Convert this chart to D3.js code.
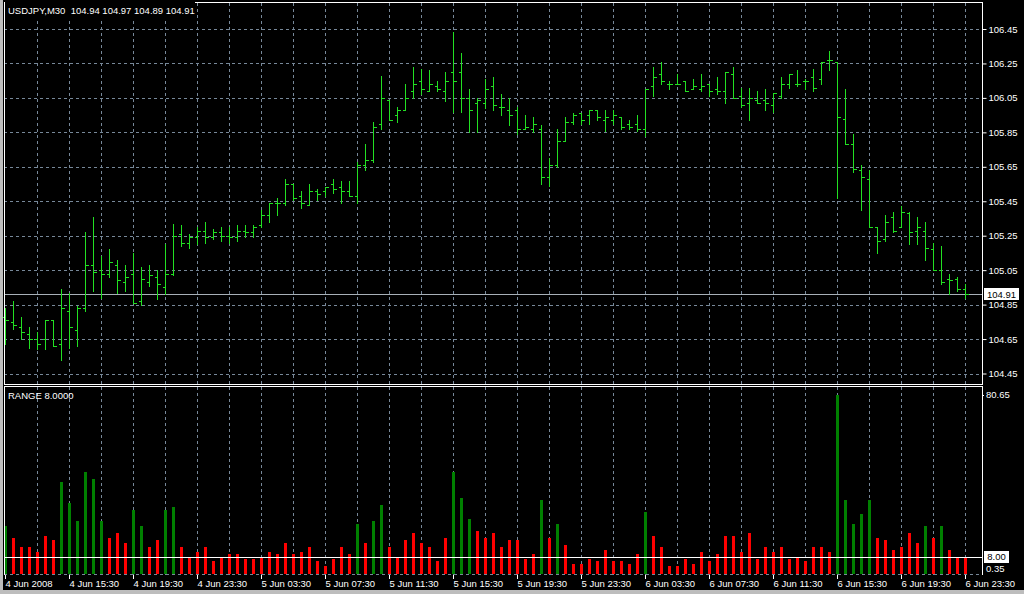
<!DOCTYPE html>
<html>
<head>
<meta charset="utf-8">
<script src="https://cdn.jsdelivr.net/npm/d3@7"></script>
<style>
  html, body { margin: 0; padding: 0; background: #000; }
  svg { display: block; }
  text { font-family: "Liberation Sans", Arial, sans-serif; font-size: 9.5px; }
</style>
</head>
<body>
<div id="chart"></div>
<script>
// Datos USDJPY M30, barra 0 = 4 Jun 2008 11:30
const opens = [
  104.78, 104.75, 104.72, 104.68, 104.65, 104.65, 104.76, 104.62, 104.81, 104.70,
  104.83, 105.08, 105.05, 105.03, 105.08, 104.98, 105.03, 104.87, 104.98, 105.01,
  104.95, 105.03, 105.26, 105.21, 105.24, 105.28, 105.24, 105.27, 105.25, 105.24,
  105.28, 105.27, 105.31, 105.37, 105.44, 105.44, 105.55, 105.48, 105.43, 105.51,
  105.51, 105.55, 105.53, 105.51, 105.48, 105.66, 105.69, 105.90, 106.04, 105.95,
  105.98, 106.09, 106.15, 106.09, 106.12, 106.09, 106.20, 106.20, 106.05, 106.02,
  106.02, 106.12, 106.00, 105.98, 105.98, 105.87, 105.87, 105.87, 105.59, 105.66,
  105.80, 105.91, 105.96, 105.95, 105.98, 105.92, 105.92, 105.94, 105.90, 105.90,
  105.87, 106.12, 106.19, 106.13, 106.13, 106.15, 106.10, 106.10, 106.13, 106.10,
  106.09, 106.19, 106.06, 106.02, 106.04, 106.04, 106.01, 106.06, 106.13, 106.13,
  106.15, 106.17, 106.16, 106.27, 106.26, 105.93, 105.78, 105.63, 105.58, 105.30,
  105.23, 105.36, 105.30, 105.38, 105.28, 105.28, 105.17, 105.05, 105.00, 105.00,
  104.94
];
const highs = [
  104.83, 104.87, 104.78, 104.72, 104.69, 104.76, 104.76, 104.94, 104.92, 104.84,
  105.27, 105.36, 105.13, 105.17, 105.11, 105.08, 105.15, 105.07, 105.08, 105.05,
  105.20, 105.32, 105.31, 105.26, 105.30, 105.33, 105.29, 105.30, 105.30, 105.31,
  105.31, 105.31, 105.40, 105.44, 105.47, 105.58, 105.55, 105.51, 105.55, 105.52,
  105.53, 105.58, 105.57, 105.57, 105.68, 105.78, 105.91, 106.18, 106.04, 106.00,
  106.13, 106.23, 106.22, 106.21, 106.15, 106.20, 106.43, 106.31, 106.10, 106.05,
  106.16, 106.17, 106.07, 106.05, 106.00, 105.95, 105.94, 105.89, 105.70, 105.87,
  105.94, 105.96, 105.96, 105.98, 105.98, 105.98, 105.98, 105.94, 105.92, 105.95,
  106.10, 106.23, 106.26, 106.15, 106.19, 106.15, 106.16, 106.19, 106.13, 106.17,
  106.20, 106.23, 106.11, 106.11, 106.09, 106.10, 106.08, 106.17, 106.19, 106.21,
  106.16, 106.22, 106.26, 106.32, 106.26, 106.10, 105.84, 105.66, 105.63, 105.30,
  105.37, 105.39, 105.42, 105.39, 105.36, 105.33, 105.21, 105.19, 105.03, 105.01,
  104.97
];
const lows = [
  104.62, 104.71, 104.65, 104.60, 104.59, 104.59, 104.61, 104.53, 104.60, 104.61,
  104.81, 104.93, 104.89, 105.01, 104.92, 104.93, 104.86, 104.85, 104.96, 104.88,
  104.91, 105.02, 105.19, 105.18, 105.20, 105.21, 105.23, 105.22, 105.21, 105.22,
  105.24, 105.24, 105.30, 105.33, 105.37, 105.43, 105.46, 105.41, 105.43, 105.46,
  105.48, 105.50, 105.44, 105.48, 105.44, 105.63, 105.68, 105.87, 105.92, 105.91,
  105.98, 106.05, 106.07, 106.09, 106.09, 106.03, 105.97, 105.97, 105.85, 105.85,
  105.99, 105.98, 105.95, 105.89, 105.84, 105.87, 105.85, 105.55, 105.54, 105.65,
  105.80, 105.90, 105.90, 105.90, 105.92, 105.86, 105.90, 105.87, 105.87, 105.86,
  105.83, 106.06, 106.13, 106.10, 106.13, 106.09, 106.10, 106.09, 106.06, 106.07,
  106.02, 106.05, 106.00, 105.92, 106.02, 105.98, 105.97, 106.05, 106.11, 106.12,
  106.10, 106.09, 106.13, 106.21, 105.47, 105.78, 105.62, 105.40, 105.30, 105.15,
  105.22, 105.27, 105.30, 105.20, 105.20, 105.11, 105.05, 104.97, 104.91, 104.93,
  104.89
];
const closes = [
  104.76, 104.73, 104.69, 104.65, 104.62, 104.76, 104.61, 104.83, 104.72, 104.83,
  105.08, 105.04, 105.03, 105.10, 104.99, 105.01, 104.86, 105.00, 105.02, 104.97,
  105.03, 105.25, 105.21, 105.24, 105.28, 105.24, 105.27, 105.25, 105.24, 105.28,
  105.27, 105.30, 105.37, 105.44, 105.44, 105.55, 105.47, 105.44, 105.51, 105.49,
  105.53, 105.52, 105.51, 105.48, 105.66, 105.69, 105.88, 106.05, 105.92, 105.98,
  106.05, 106.13, 106.10, 106.13, 106.10, 106.15, 106.15, 106.05, 105.98, 106.04,
  106.10, 106.01, 106.00, 105.95, 105.87, 105.88, 105.90, 105.59, 105.66, 105.80,
  105.91, 105.95, 105.92, 105.98, 105.94, 105.94, 105.95, 105.88, 105.88, 105.87,
  106.10, 106.17, 106.15, 106.13, 106.13, 106.09, 106.12, 106.12, 106.09, 106.09,
  106.20, 106.05, 106.01, 106.05, 106.02, 106.02, 106.08, 106.13, 106.19, 106.13,
  106.15, 106.11, 106.26, 106.27, 105.94, 105.78, 105.64, 105.59, 105.30, 105.22,
  105.33, 105.28, 105.39, 105.27, 105.30, 105.18, 105.05, 104.98, 104.99, 104.94,
  104.91
];
// Indicador RANGE (puntos)
const ranges = [
  22.1, 16.6, 12.6, 12.6, 10.3, 17.5, 15.7, 41.7, 32.3, 24.2,
  46.2, 43.0, 24.2, 16.6, 18.8, 14.3, 29.1, 22.0, 12.6, 15.7,
  29.1, 30.4, 12.6, 8.0, 10.3, 12.6, 6.3, 8.0, 9.4, 9.4,
  7.1, 7.1, 8.0, 10.3, 9.4, 14.3, 9.4, 10.3, 12.6, 6.3,
  4.0, 7.1, 12.6, 9.4, 22.9, 14.3, 24.2, 31.4, 12.6, 8.0,
  15.7, 18.8, 14.3, 12.6, 6.3, 16.6, 46.2, 34.5, 25.1, 19.7,
  16.6, 18.8, 12.6, 15.7, 15.7, 7.1, 9.4, 33.6, 16.6, 22.9,
  13.5, 4.9, 4.9, 7.1, 6.3, 11.2, 6.3, 6.3, 4.9, 9.4,
  28.3, 17.5, 12.6, 4.0, 4.0, 7.1, 4.9, 10.3, 6.3, 9.4,
  17.5, 17.5, 10.3, 18.8, 7.1, 12.6, 10.3, 12.6, 7.1, 8.0,
  6.3, 12.6, 12.6, 10.3, 80.65, 33.6, 22.9, 27.4, 33.6, 16.6,
  15.7, 11.2, 12.6, 18.8, 14.3, 22.0, 16.6, 22.0, 11.2, 8.0,
  8.0
];
const rangeLevel = 8.0;
const rangeThreshold = 20;
const rangeMax = 80.65;
const rangeMin = 0.35;

const priceTicks = [104.45, 104.65, 104.85, 105.05, 105.25, 105.45, 105.65, 105.85, 106.05, 106.25, 106.45];
const timeLabels = ['4 Jun 2008', '4 Jun 15:30', '4 Jun 19:30', '4 Jun 23:30', '5 Jun 03:30', '5 Jun 07:30',
  '5 Jun 11:30', '5 Jun 15:30', '5 Jun 19:30', '5 Jun 23:30', '6 Jun 03:30', '6 Jun 07:30',
  '6 Jun 11:30', '6 Jun 15:30', '6 Jun 19:30', '6 Jun 23:30'];
const headerText = 'USDJPY,M30  104.94 104.97 104.89 104.91';

document.addEventListener('DOMContentLoaded', function() {
    const width = 1024, height = 594;
    const left = 4, right = 982;
    const mainTop = 2.5, mainBottom = 384;
    const subTop = 386.5, subBottom = 575;
    const gridColor = '#778899';

    const svg = d3.select('#chart').append('svg')
        .attr('width', width)
        .attr('height', height)
        .style('background', '#000');

    // Escalas
    const x = d3.scaleLinear().domain([0, closes.length - 1]).range([5, 965]);
    const y = d3.scaleLinear().domain([104.45, 106.45]).range([373.5, 29]);
    const yr = d3.scaleLinear().domain([0, rangeMax]).range([subBottom, 395]);

    // Marco de ventana
    svg.append('rect').attr('x', 0).attr('y', 0).attr('width', 3).attr('height', height).attr('fill', '#bdbdbd');
    svg.append('rect').attr('x', 0).attr('y', 590).attr('width', width).attr('height', 4).attr('fill', '#bdbdbd');

    // Rejilla vertical (cada 4 barras)
    const gridIdx = d3.range(4, closes.length, 4);
    const gv = svg.append('g').attr('stroke', gridColor).attr('stroke-dasharray', '3,3')
        .attr('shape-rendering', 'crispEdges');
    gridIdx.forEach(i => {
        const gx = Math.round(x(i)) + 0.5;
        gv.append('line').attr('x1', gx).attr('x2', gx).attr('y1', mainTop).attr('y2', mainBottom);
        gv.append('line').attr('x1', gx).attr('x2', gx).attr('y1', subTop).attr('y2', subBottom);
    });

    // Rejilla horizontal de precios
    priceTicks.forEach(p => {
        const gy = Math.round(y(p)) + 0.5;
        gv.append('line').attr('x1', left).attr('x2', right).attr('y1', gy).attr('y2', gy);
    });
    gv.append('line').attr('x1', left).attr('x2', right).attr('y1', subBottom - 0.5).attr('y2', subBottom - 0.5);

    // Línea de precio actual
    const lastClose = closes[closes.length - 1];
    svg.append('line')
        .attr('x1', left).attr('x2', right)
        .attr('y1', Math.round(y(lastClose)) + 0.5).attr('y2', Math.round(y(lastClose)) + 0.5)
        .attr('stroke', '#a8b0b8').attr('shape-rendering', 'crispEdges');

    // Barras OHLC
    const bars = svg.append('g').attr('stroke', '#22e022').attr('fill', 'none')
        .attr('shape-rendering', 'crispEdges');
    closes.forEach((c, i) => {
        const bx = Math.round(x(i)) + 0.5;
        const yo = Math.round(y(opens[i])) + 0.5;
        const yc = Math.round(y(c)) + 0.5;
        bars.append('path')
            .attr('d', `M${bx},${Math.round(y(highs[i]))}V${Math.round(y(lows[i])) + 1}` +
                `M${bx - 3},${yo}H${bx}M${bx},${yc}H${bx + 3}`);
    });

    // Histograma RANGE
    svg.append('g').selectAll('rect')
        .data(ranges)
        .enter()
        .append('rect')
        .attr('x', (d, i) => Math.round(x(i)) - 1)
        .attr('y', d => Math.round(yr(d)))
        .attr('width', 3)
        .attr('height', d => subBottom - 1 - Math.round(yr(d)))
        .attr('fill', d => d > rangeThreshold ? '#008000' : '#ff0000');

    // Nivel 8.00
    svg.append('line')
        .attr('x1', left).attr('x2', right)
        .attr('y1', Math.round(yr(rangeLevel)) + 0.5).attr('y2', Math.round(yr(rangeLevel)) + 0.5)
        .attr('stroke', '#fff').attr('shape-rendering', 'crispEdges');

    // Marcos de los paneles
    const frame = svg.append('g').attr('stroke', '#fff').attr('fill', 'none').attr('shape-rendering', 'crispEdges');
    frame.append('rect').attr('x', left + 0.5).attr('y', mainTop).attr('width', right - left).attr('height', mainBottom - mainTop);
    frame.append('path').attr('d', `M${left + 0.5},${subBottom}V${subTop}H${right + 0.5}V${subBottom}`);

    // Eje de precios
    const yAxis = svg.append('g')
        .attr('transform', `translate(${right + 0.5},0)`)
        .call(d3.axisRight(y).tickValues(priceTicks).tickSize(4).tickPadding(2).tickFormat(d3.format('.2f')));
    yAxis.select('.domain').remove();
    yAxis.selectAll('line').attr('stroke', '#fff');
    yAxis.selectAll('text').attr('fill', '#fff').style('font-size', '9.5px')
        .style('font-family', '"Liberation Sans", Arial, sans-serif');

    // Caja del último precio
    svg.append('rect').attr('x', 984).attr('y', Math.round(y(lastClose)) - 6).attr('width', 35).attr('height', 12)
        .attr('fill', '#fff');
    svg.append('text').attr('x', 1001.5).attr('y', y(lastClose)).attr('dy', '0.35em')
        .attr('text-anchor', 'middle').attr('fill', '#000').text(d3.format('.2f')(lastClose));

    // Etiquetas del indicador
    svg.append('text').attr('x', 986).attr('y', yr(rangeMax)).attr('dy', '0.35em').attr('fill', '#fff')
        .text(d3.format('.2f')(rangeMax));
    svg.append('text').attr('x', 986).attr('y', 569).attr('dy', '0.35em').attr('fill', '#fff')
        .text(d3.format('.2f')(rangeMin));
    svg.append('rect').attr('x', 984).attr('y', Math.round(yr(rangeLevel)) - 6).attr('width', 25).attr('height', 12)
        .attr('fill', '#fff');
    svg.append('text').attr('x', 996.5).attr('y', yr(rangeLevel)).attr('dy', '0.35em')
        .attr('text-anchor', 'middle').attr('fill', '#000').text(d3.format('.2f')(rangeLevel));
    svg.append('line').attr('x1', right).attr('x2', 984).attr('y1', Math.round(yr(rangeMax)) + 0.5)
        .attr('y2', Math.round(yr(rangeMax)) + 0.5).attr('stroke', '#fff');

    // Eje de tiempo
    const timeG = svg.append('g');
    timeLabels.forEach((t, k) => {
        const tx = Math.round(x(k * 8)) + 0.5;
        timeG.append('line').attr('x1', tx).attr('x2', tx).attr('y1', subBottom).attr('y2', subBottom + 4)
            .attr('stroke', '#fff').attr('shape-rendering', 'crispEdges');
        timeG.append('text').attr('x', tx).attr('y', 584).attr('dy', '0.35em').attr('fill', '#fff').text(t);
    });

    // Títulos
    svg.append('rect').attr('x', left + 1).attr('y', 0).attr('width', 190).attr('height', 19).attr('fill', '#000');
    svg.append('text').attr('x', 8).attr('y', 11).attr('dy', '0.35em').attr('fill', '#fff')
        .style('white-space', 'pre').attr('xml:space', 'preserve').text(headerText);
    svg.append('text').attr('x', 8).attr('y', 395.5).attr('dy', '0.35em').attr('fill', '#fff')
        .text('RANGE ' + d3.format('.4f')(rangeLevel));
});
</script>
</body>
</html>
